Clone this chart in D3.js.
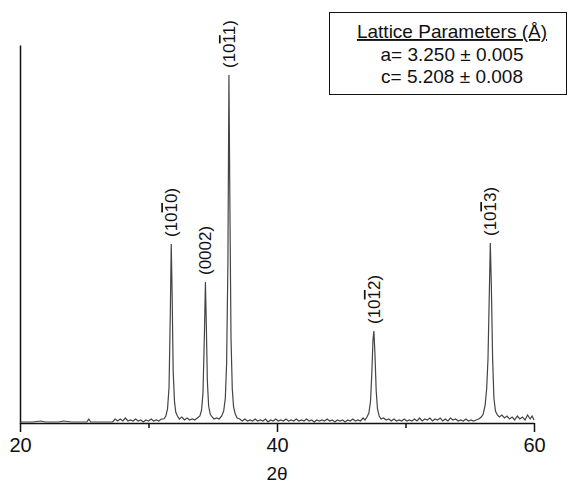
<!DOCTYPE html>
<html>
<head>
<meta charset="utf-8">
<script src="https://cdn.jsdelivr.net/npm/d3@7"></script>
<style>
  body { margin: 0; background: #fff; }
  text { font-family: "Liberation Sans", Arial, sans-serif; fill: #111; }
</style>
</head>
<body>
<svg id="chart" width="572" height="485"></svg>
<script>
// 2theta range and axis ticks
const xDomain = [20, 60];
const majorTicks = [20, 40, 60];
const minorTicks = [30, 50];

// measured XRD pattern, [2theta, intensity (a.u.)]
const pattern = [
  [20.0, 1], [20.6, 1], [21.0, 1], [21.6, 2], [22.0, 1], [22.6, 1], [23.0, 1], [23.4, 2],
  [24.0, 1], [24.6, 1], [25.2, 1], [25.35, 4], [25.5, 1], [26.0, 1], [26.5, 1], [27.2, 1],
  [27.4, 4], [27.6, 2], [27.8, 4], [28.0, 2], [28.2, 5], [28.4, 2], [28.6, 3], [28.8, 2],
  [29.0, 4], [29.2, 2], [29.4, 3], [29.6, 1], [29.8, 3], [30.0, 2], [30.2, 4], [30.4, 2],
  [30.6, 3], [30.8, 2], [31.0, 4], [31.2, 4], [31.35, 7], [31.48, 14], [31.6, 36], [31.7, 112],
  [31.77, 179], [31.84, 128], [31.92, 52], [32.02, 22], [32.12, 11], [32.25, 7], [32.4, 4], [32.6, 6],
  [32.8, 3], [33.0, 5], [33.2, 3], [33.4, 4], [33.6, 3], [33.8, 5], [34.0, 7], [34.13, 13],
  [34.24, 30], [34.35, 88], [34.43, 141], [34.5, 98], [34.58, 42], [34.68, 17], [34.8, 9], [34.95, 6],
  [35.1, 4], [35.3, 5], [35.5, 4], [35.7, 7], [35.85, 12], [35.98, 25], [36.08, 60], [36.18, 160],
  [36.26, 348], [36.33, 225], [36.42, 85], [36.52, 34], [36.62, 16], [36.75, 9], [36.9, 5], [37.1, 4],
  [37.3, 2], [37.5, 4], [37.7, 2], [37.9, 3], [38.1, 2], [38.3, 4], [38.5, 2], [38.7, 3],
  [38.9, 2], [39.1, 4], [39.3, 1], [39.5, 3], [39.7, 2], [39.9, 4], [40.1, 2], [40.3, 3],
  [40.5, 2], [40.7, 4], [40.9, 2], [41.1, 3], [41.3, 2], [41.5, 4], [41.7, 2], [41.9, 3],
  [42.1, 2], [42.3, 4], [42.5, 2], [42.7, 3], [42.9, 1], [43.1, 3], [43.3, 2], [43.5, 3],
  [43.7, 2], [43.9, 4], [44.1, 2], [44.3, 3], [44.5, 1], [44.7, 3], [44.9, 2], [45.1, 3],
  [45.3, 1], [45.5, 3], [45.7, 2], [45.9, 4], [46.1, 2], [46.3, 3], [46.5, 2], [46.7, 5],
  [46.85, 3], [47.0, 6], [47.15, 10], [47.28, 22], [47.38, 50], [47.47, 83], [47.54, 92], [47.62, 70],
  [47.72, 32], [47.82, 14], [47.95, 7], [48.1, 4], [48.3, 5], [48.5, 3], [48.7, 4], [48.9, 2],
  [49.1, 4], [49.3, 2], [49.5, 3], [49.7, 2], [49.9, 4], [50.1, 2], [50.3, 3], [50.5, 2],
  [50.7, 4], [50.9, 2], [51.1, 5], [51.3, 2], [51.5, 4], [51.7, 3], [51.9, 5], [52.1, 2],
  [52.3, 4], [52.5, 3], [52.7, 5], [52.9, 2], [53.1, 4], [53.3, 2], [53.5, 5], [53.7, 3],
  [53.9, 4], [54.1, 2], [54.3, 3], [54.5, 2], [54.7, 4], [54.9, 2], [55.1, 3], [55.3, 2],
  [55.5, 3], [55.7, 4], [55.9, 6], [56.05, 9], [56.2, 18], [56.32, 35], [56.42, 64], [56.52, 128],
  [56.6, 180], [56.68, 138], [56.78, 64], [56.88, 25], [57.0, 12], [57.15, 8], [57.3, 6], [57.5, 8],
  [57.7, 5], [57.9, 7], [58.1, 4], [58.3, 6], [58.5, 3], [58.7, 7], [58.9, 4], [59.1, 6],
  [59.3, 3], [59.5, 8], [59.7, 4], [59.85, 7], [60.0, 3]
];

// reflections: position, peak intensity, miller index (barred digit split out)
const reflections = [
  { pos: 31.77, top: 179, pre: "(10", bar: "1", post: "0)" },
  { pos: 34.43, top: 141, pre: "(0002)", bar: "", post: "" },
  { pos: 36.26, top: 348, pre: "(10", bar: "1", post: "1)" },
  { pos: 47.54, top: 92, pre: "(10", bar: "1", post: "2)" },
  { pos: 56.6, top: 180, pre: "(10", bar: "1", post: "3)" }
];

const legendLines = ["a= 3.250 \u00b1 0.005", "c= 5.208 \u00b1 0.008"];

const svg = d3.select("#chart");

const x = d3.scaleLinear().domain(xDomain).range([20, 534]);
const y = d3.scaleLinear().domain([0, 378]).range([423, 45]);

// y axis: plain line
svg.append("g")
  .attr("transform", "translate(20,0)")
  .call(d3.axisLeft(y).tickValues([]).tickSizeOuter(0))
  .select(".domain").attr("stroke", "#111").attr("stroke-width", 1.5);

// minor ticks
svg.append("g")
  .attr("transform", "translate(0,423)")
  .call(d3.axisBottom(x).tickValues(minorTicks).tickSize(5).tickFormat(""))
  .call(g => g.select(".domain").remove())
  .selectAll("line").attr("stroke", "#111").attr("stroke-width", 1.5);

// x axis
const xg = svg.append("g")
  .attr("transform", "translate(0,423)")
  .call(d3.axisBottom(x).tickValues(majorTicks).tickSize(9).tickSizeOuter(0).tickPadding(6));
xg.select(".domain").attr("stroke", "#111").attr("stroke-width", 1.5);
xg.selectAll("line").attr("stroke", "#111").attr("stroke-width", 1.5);
xg.selectAll("text")
  .attr("font-size", 20)
  .attr("font-family", "Liberation Sans, Arial, sans-serif")
  .attr("fill", "#111");

svg.append("text")
  .attr("x", x(40))
  .attr("y", 480)
  .attr("text-anchor", "middle")
  .attr("font-size", 19)
  .text("2\u03b8");

// pattern
const line = d3.line()
  .x(d => x(d[0]))
  .y(d => y(d[1]));

svg.append("path")
  .datum(pattern)
  .attr("fill", "none")
  .attr("stroke", "#444")
  .attr("stroke-width", 1.2)
  .attr("d", line);

// peak labels, rotated
const labels = svg.selectAll(".hkl")
  .data(reflections)
  .join("text")
  .attr("class", "hkl")
  .attr("transform", d => `translate(${x(d.pos) + 6},${y(d.top) - 7}) rotate(-90)`)
  .attr("font-size", 17);

labels.append("tspan").text(d => d.pre);
labels.append("tspan")
  .style("text-decoration", "overline")
  .text(d => d.bar);
labels.append("tspan").text(d => d.post);

// lattice parameter box
const box = svg.append("g");
box.append("rect")
  .attr("x", 329.5)
  .attr("y", 12.5)
  .attr("width", 237)
  .attr("height", 82)
  .attr("fill", "#fff")
  .attr("stroke", "#111")
  .attr("stroke-width", 1);

box.append("text")
  .attr("x", 452)
  .attr("y", 38)
  .attr("text-anchor", "middle")
  .attr("font-size", 19)
  .style("text-decoration", "underline")
  .text("Lattice Parameters (\u00c5)");

box.selectAll(".lp")
  .data(legendLines)
  .join("text")
  .attr("class", "lp")
  .attr("x", 452)
  .attr("y", (d, i) => 61 + i * 22)
  .attr("text-anchor", "middle")
  .attr("font-size", 19)
  .text(d => d);
</script>
</body>
</html>
